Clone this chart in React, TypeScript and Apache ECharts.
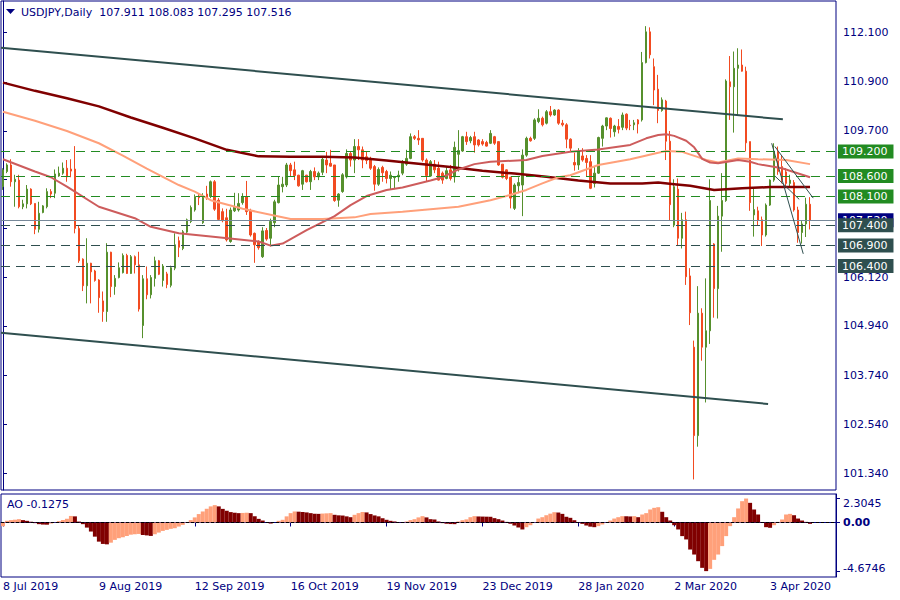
import React, { useEffect, useRef } from "react";
import * as echarts from "echarts";

// ---------- data ----------
const symbol = "USDJPY,Daily";
const tickLabels = ["8 Jul 2019", "9 Aug 2019", "12 Sep 2019", "16 Oct 2019", "19 Nov 2019", "23 Dec 2019", "28 Jan 2020", "2 Mar 2020", "3 Apr 2020"];
const LABEL_STEP = 24;
const SLOTS = 209; // 203 bars + empty shift on the right

// [open, high, low, close]
const ohlc: number[][] = [
  [108.34, 108.79, 108.26, 108.75], [108.71, 108.91, 108.67, 108.87], [108.87, 109.01, 108.34, 108.46], [108.46, 108.63, 107.85, 108.52],
  [108.50, 108.63, 107.81, 107.85], [107.85, 108.02, 107.79, 107.92], [107.92, 108.38, 107.81, 108.28], [108.28, 108.30, 107.89, 107.92],
  [107.93, 107.93, 107.18, 107.30], [107.30, 107.97, 107.22, 107.69], [107.71, 107.89, 107.69, 107.87], [107.85, 108.30, 107.81, 108.22],
  [108.22, 108.28, 108.06, 108.16], [108.18, 108.76, 108.06, 108.65], [108.60, 108.83, 108.58, 108.67], [108.67, 108.93, 108.63, 108.79],
  [108.79, 108.99, 108.46, 108.58], [108.77, 109.01, 108.57, 108.72], [108.77, 109.33, 107.20, 107.32], [107.32, 107.40, 106.48, 106.53],
  [106.57, 106.59, 105.79, 105.92], [105.92, 107.08, 105.49, 106.47], [106.47, 106.48, 105.49, 106.26], [106.28, 106.31, 106.02, 106.05],
  [106.06, 106.08, 105.26, 105.63], [105.55, 105.78, 105.04, 105.29], [105.29, 106.96, 105.04, 106.74], [106.74, 106.75, 105.64, 105.90],
  [105.90, 106.18, 105.70, 106.10], [106.12, 106.49, 106.10, 106.36], [106.24, 106.71, 106.22, 106.66], [106.66, 106.70, 106.21, 106.22],
  [106.22, 106.67, 106.21, 106.63], [106.63, 106.66, 106.22, 106.43], [106.43, 106.75, 105.29, 105.35], [104.95, 106.18, 104.64, 106.09],
  [106.09, 106.39, 105.59, 105.70], [105.70, 106.18, 105.61, 106.12], [106.10, 106.63, 105.90, 106.53], [106.53, 106.55, 106.18, 106.20],
  [106.05, 106.45, 105.90, 106.40], [106.21, 106.26, 105.86, 105.95], [105.93, 106.41, 105.88, 106.36], [106.35, 107.20, 106.30, 106.92],
  [107.02, 107.12, 106.62, 106.86], [106.83, 107.28, 106.79, 107.24], [107.23, 107.56, 107.20, 107.53], [107.49, 107.88, 107.45, 107.83],
  [107.77, 108.15, 107.73, 108.10], [108.11, 108.18, 107.89, 108.07], [107.46, 108.18, 107.43, 108.10], [108.16, 108.36, 108.02, 108.06],
  [108.10, 108.49, 108.06, 108.46], [108.46, 108.50, 107.75, 107.79], [108.01, 108.06, 107.52, 107.54], [107.73, 107.81, 107.47, 107.51],
  [107.58, 107.80, 107.00, 107.04], [107.00, 107.83, 106.97, 107.77], [107.75, 108.19, 107.72, 107.84], [107.77, 108.18, 107.73, 107.93],
  [107.95, 108.18, 107.90, 108.10], [108.10, 108.48, 107.65, 107.73], [107.75, 107.80, 107.12, 107.16], [107.20, 107.22, 106.48, 106.92],
  [107.00, 107.03, 106.80, 106.85], [106.63, 107.35, 106.60, 107.26], [107.27, 107.33, 107.02, 107.06], [107.08, 107.56, 106.88, 107.49],
  [107.46, 108.02, 107.35, 107.97], [107.95, 108.59, 107.93, 108.38], [108.34, 108.58, 108.20, 108.40], [108.38, 108.92, 108.33, 108.87],
  [108.87, 108.92, 108.58, 108.73], [108.75, 108.95, 108.50, 108.61], [108.62, 108.63, 108.34, 108.36], [108.40, 108.75, 108.26, 108.73],
  [108.62, 108.63, 108.44, 108.46], [108.46, 108.75, 108.26, 108.71], [108.71, 108.81, 108.50, 108.58], [108.58, 108.71, 108.50, 108.67],
  [108.69, 109.07, 108.62, 109.01], [108.99, 109.19, 108.67, 108.87], [108.91, 109.24, 108.83, 108.84], [108.87, 108.87, 107.97, 108.00],
  [108.01, 108.18, 107.85, 108.16], [108.22, 108.67, 108.19, 108.63], [108.58, 109.25, 108.54, 109.15], [109.15, 109.19, 108.83, 108.99],
  [108.99, 109.50, 108.67, 109.32], [109.32, 109.50, 108.99, 109.24], [109.24, 109.32, 108.79, 108.99], [109.07, 109.20, 108.89, 108.98],
  [109.03, 109.07, 108.75, 108.79], [108.83, 108.87, 108.24, 108.40], [108.40, 108.81, 108.36, 108.76], [108.81, 108.85, 108.46, 108.68],
  [108.71, 108.75, 108.42, 108.54], [108.54, 108.71, 108.28, 108.62], [108.56, 108.60, 108.28, 108.58], [108.58, 108.73, 108.46, 108.62],
  [108.67, 108.99, 108.62, 108.91], [108.89, 109.24, 108.85, 109.03], [109.03, 109.64, 109.01, 109.56], [109.56, 109.60, 109.48, 109.52],
  [109.52, 109.72, 109.36, 109.48], [109.52, 109.52, 108.95, 108.99], [108.99, 109.03, 108.46, 108.61], [108.60, 108.99, 108.58, 108.95],
  [108.89, 108.99, 108.67, 108.75], [108.79, 108.95, 108.49, 108.50], [108.67, 108.71, 108.41, 108.50], [108.54, 108.83, 108.52, 108.73],
  [108.75, 108.87, 108.49, 108.54], [108.58, 109.44, 108.44, 109.30], [109.13, 109.72, 108.71, 109.22], [109.21, 109.58, 109.19, 109.56],
  [109.56, 109.68, 109.36, 109.44], [109.46, 109.58, 109.40, 109.54], [109.56, 109.68, 109.17, 109.36], [109.48, 109.50, 109.32, 109.36],
  [109.44, 109.50, 109.34, 109.38], [109.42, 109.46, 109.32, 109.33], [109.40, 109.72, 109.38, 109.64], [109.56, 109.58, 109.36, 109.40],
  [109.44, 109.44, 108.85, 108.87], [108.89, 108.89, 108.54, 108.57], [108.75, 108.76, 108.50, 108.54], [108.57, 108.58, 107.81, 108.06],
  [107.81, 108.42, 107.77, 108.38], [108.36, 108.57, 108.18, 108.44], [108.38, 109.25, 107.62, 109.11], [109.11, 109.56, 109.07, 109.52],
  [109.52, 109.56, 109.44, 109.46], [109.52, 110.01, 109.48, 109.97], [109.93, 110.23, 109.89, 110.01], [110.01, 110.05, 109.81, 109.85],
  [109.89, 110.21, 109.86, 110.17], [110.17, 110.31, 110.05, 110.09], [110.09, 110.23, 110.07, 110.21], [110.21, 110.23, 109.85, 109.89],
  [109.89, 109.97, 109.81, 109.85], [109.85, 109.89, 109.28, 109.50], [109.50, 109.52, 109.19, 109.28], [108.93, 109.17, 108.73, 108.87],
  [108.87, 109.28, 108.75, 109.20], [109.09, 109.28, 108.95, 108.99], [109.03, 109.11, 108.58, 108.93], [108.95, 109.11, 108.28, 108.30],
  [108.42, 108.83, 108.32, 108.67], [108.67, 109.56, 108.65, 109.54], [109.52, 109.85, 109.32, 109.82], [109.82, 110.03, 109.72, 110.02],
  [110.01, 110.03, 109.54, 109.76], [109.68, 109.85, 109.56, 109.82], [109.81, 109.99, 109.64, 109.74], [109.79, 110.15, 109.72, 110.09],
  [110.11, 110.13, 109.72, 109.77], [109.84, 109.97, 109.72, 109.83], [109.85, 109.97, 109.72, 109.90], [109.97, 109.99, 109.64, 109.87],
  [109.97, 111.63, 109.93, 111.37], [111.37, 112.26, 111.35, 112.12], [112.12, 112.23, 111.47, 111.56], [111.27, 111.47, 110.33, 110.70],
  [110.72, 111.07, 109.89, 110.20], [110.20, 110.52, 110.17, 110.46], [110.43, 110.46, 108.99, 109.45], [109.45, 109.70, 107.52, 107.90],
  [107.40, 108.52, 107.35, 108.34], [108.28, 108.54, 106.89, 107.08], [107.08, 107.70, 106.83, 107.53], [107.53, 107.73, 105.94, 106.14],
  [106.16, 106.35, 104.96, 105.26], [104.42, 104.58, 101.19, 102.26], [102.26, 105.91, 101.99, 105.25], [105.25, 105.37, 104.09, 104.42],
  [104.42, 106.10, 103.07, 104.82], [104.82, 108.52, 104.50, 108.00], [106.94, 106.96, 105.14, 105.85], [105.85, 107.87, 105.12, 107.62],
  [107.62, 108.67, 106.75, 108.00], [108.00, 110.96, 107.97, 110.92], [110.90, 111.53, 109.97, 110.78], [110.78, 111.64, 109.66, 111.23],
  [111.23, 111.72, 110.09, 111.31], [111.31, 111.69, 111.15, 111.16], [111.16, 111.27, 109.20, 109.41], [109.44, 109.44, 107.75, 107.95],
  [107.65, 108.30, 107.12, 107.78], [107.75, 107.85, 107.40, 107.52], [107.53, 107.61, 106.89, 107.16], [107.16, 107.93, 107.12, 107.89],
  [107.89, 108.52, 107.87, 108.50], [108.50, 109.40, 108.46, 109.19], [109.19, 109.32, 108.63, 108.71], [108.83, 109.11, 108.42, 108.50],
  [108.70, 108.79, 108.33, 108.42], [108.42, 108.63, 108.34, 108.50], [108.44, 108.50, 107.73, 107.77], [107.77, 107.85, 106.97, 107.22],
  [107.22, 107.50, 106.95, 107.43], [107.43, 108.07, 107.11, 107.91], [107.911, 108.083, 107.295, 107.516],
];

// Awesome Oscillator, one value per bar
const ao: number[] = [
  -0.36, 0.16, 0.23, 0.27, 0.32, 0.23, 0.16, 0.06, -0.06, -0.16,
  -0.20, -0.21, -0.10, -0.02, 0.13, 0.23, 0.36, 0.63, 0.59, 0.09,
  -0.16, -0.49, -0.87, -1.36, -1.84, -2.06, -2.10, -1.94, -1.67, -1.51,
  -1.42, -1.29, -1.17, -1.13, -1.10, -1.20, -1.24, -1.29, -1.13, -0.97,
  -0.81, -0.71, -0.61, -0.55, -0.39, -0.23, 0.05, 0.23, 0.49, 0.81,
  1.06, 1.32, 1.55, 1.67, 1.55, 1.31, 1.13, 1.00, 0.94, 0.90,
  0.92, 0.94, 0.90, 0.59, 0.35, 0.19, 0.00, -0.10, 0.00, 0.16,
  0.26, 0.59, 0.90, 1.06, 1.04, 1.01, 0.97, 0.90, 0.84, 0.83,
  0.86, 0.88, 0.90, 0.74, 0.69, 0.67, 0.59, 0.51, 0.74, 0.90,
  1.01, 0.97, 0.81, 0.68, 0.59, 0.41, 0.26, 0.16, 0.10, 0.03,
  -0.02, 0.10, 0.23, 0.32, 0.49, 0.61, 0.49, 0.32, 0.29, 0.10,
  -0.06, -0.12, -0.15, -0.16, 0.10, 0.22, 0.30, 0.51, 0.61, 0.58,
  0.57, 0.56, 0.55, 0.42, 0.32, 0.19, 0.06, -0.13, -0.29, -0.48,
  -0.67, -0.45, -0.26, -0.03, 0.38, 0.51, 0.70, 0.85, 0.99, 0.96,
  0.83, 0.55, 0.45, 0.22, 0.03, -0.13, -0.29, -0.40, -0.45, -0.35,
  -0.19, 0.03, 0.19, 0.38, 0.51, 0.61, 0.60, 0.58, 0.61, 0.51,
  0.77, 0.90, 1.25, 1.41, 1.47, 1.03, 0.51, 0.19, -0.26, -0.67,
  -1.31, -1.63, -2.60, -3.08, -3.72, -4.36, -4.6746, -4.46, -3.59, -3.08,
  -2.27, -1.31, -0.35, 0.51, 1.35, 2.05, 2.3045, 1.89, 1.25, 0.77,
  0.03, -0.45, -0.51, -0.26, 0.06, 0.29, 0.77, 0.83, 0.70, 0.38,
  0.19, 0.06, -0.1275,
];

// moving averages: [bar index, value]
const maSlow: number[][] = [
  [0, 110.88], [8, 110.68], [16, 110.5], [24, 110.3], [32, 110.03], [40, 109.78], [48, 109.52], [56, 109.24], [64, 109.08],
  [72, 109.07], [80, 109.07], [88, 109.05], [96, 108.98], [104, 108.9], [112, 108.82], [120, 108.73], [128, 108.66],
  [136, 108.58], [144, 108.49], [152, 108.42], [160, 108.42], [164, 108.44], [168, 108.4], [172, 108.36], [178, 108.26],
  [185, 108.3], [192, 108.33], [202, 108.33],
];
const maMid: number[][] = [
  [0, 110.17], [8, 109.95], [16, 109.7], [24, 109.4], [30, 109.1], [36, 108.78], [44, 108.38], [48, 108.22], [52, 108.01],
  [60, 107.8], [72, 107.55], [80, 107.55], [88, 107.59], [92, 107.67], [100, 107.73], [107, 107.79], [114, 107.85],
  [122, 108.01], [126, 108.11], [131, 108.26], [135, 108.42], [139, 108.57], [142, 108.62], [149, 108.87], [157, 109.01],
  [164, 109.17], [166, 109.21], [170, 109.19], [174, 109.06], [176, 108.99], [179, 108.93], [184, 109.03], [189, 109.01],
  [196, 108.99], [202, 108.89],
];
const maFast: number[][] = [
  [0, 109.01], [8, 108.71], [12, 108.57], [16, 108.34], [24, 107.85], [33, 107.57], [37, 107.36], [44, 107.2], [52, 107.12],
  [58, 107.06], [64, 107.0], [67, 106.9], [70, 106.95], [72, 107.06], [76, 107.28], [83, 107.62], [87, 107.89], [91, 108.11],
  [96, 108.26], [100, 108.32], [107, 108.49], [110, 108.57], [114, 108.76], [118, 108.89], [122, 108.95], [131, 108.99],
  [135, 109.09], [142, 109.19], [149, 109.25], [157, 109.36], [161, 109.52], [164, 109.6], [166, 109.62], [168, 109.58],
  [171, 109.46], [173, 109.3], [175, 109.02], [177, 108.93], [179, 108.91], [184, 108.99], [187, 108.95], [189, 108.89],
  [195, 108.79], [202, 108.57],
];

// trend lines: [bar index, price]
const upperChannel = [[-0.5, 111.732], [195.2, 109.985]];
const lowerChannel = [[-0.5, 104.772], [191.5, 103.033]];
const wedgeLines = [
  [[192.4, 109.4], [200.3, 106.7]],
  [[193.2, 109.32], [202.8, 108.06]],
  [[193.2, 108.6], [199.3, 108.03]],
];

const resistanceLevels = [109.2, 108.6, 108.1];
const supportLevels = [107.4, 106.9, 106.4];
// scale marks; 108.520 and 107.320 sit under the level boxes, so only their ticks are shown
const priceTicks = [112.1, 110.9, 109.7, 108.52, 107.32, 106.12, 104.94, 103.74, 102.54, 101.34];
const priceLabels = [112.1, 110.9, 109.7, 106.12, 104.94, 103.74, 102.54, 101.34];
const aoTicks = [2.3045, 0, -4.6746];

// ---------- styles ----------
const NAVY = "#000080";
const FONT = "DejaVu Sans";
const BULL = "#56902d";
const BEAR = "#f24b21";
const GREEN_LVL = "#228B22";
const SLATE = "#2F4F4F";

export default function App() {
  const ref = useRef<HTMLDivElement>(null);

  useEffect(() => {
    if (!ref.current) return;
    const chart = echarts.init(ref.current, undefined, { renderer: "svg" });
    const cats = Array.from({ length: SLOTS }, (_, i) => String(i));
    const last = ohlc[ohlc.length - 1];
    const header = `${symbol}  ${last.map((v) => v.toFixed(3)).join(" ")}`;

    const aoData = ao.map((v, i) => {
      const up = i === 0 ? true : v >= ao[i - 1];
      return { value: v, itemStyle: { color: up ? "#FFA07A" : "#800000" } };
    });

    const levelLabel = (bg: string) => ({
      show: true,
      position: "end",
      distance: 2,
      formatter: (p: any) => Number(p.value).toFixed(3),
      color: "#ffffff",
      backgroundColor: bg,
      fontFamily: FONT,
      fontSize: 11,
      lineHeight: 13,
      padding: [1, 6, 0, 4],
    });

    const markData: any[] = [
      {
        yAxis: last[3],
        lineStyle: { color: "#778899", type: "solid", width: 1 },
        label: levelLabel(NAVY),
      },
      ...resistanceLevels.map((v) => ({
        yAxis: v,
        lineStyle: { color: GREEN_LVL, type: [9, 6], width: 1 },
        label: levelLabel(GREEN_LVL),
      })),
      ...supportLevels.map((v) => ({
        yAxis: v,
        lineStyle: { color: SLATE, type: [9, 6], width: 1 },
        label: levelLabel(SLATE),
      })),
    ];

    const lineSeries = (data: number[][], color: string, width: number, z: number) => ({
      type: "line",
      xAxisIndex: 1,
      yAxisIndex: 0,
      data,
      symbol: "none",
      silent: true,
      z,
      lineStyle: { color, width },
      animation: false,
    });

    const dateInterval = (i: number) => i % LABEL_STEP === 0 && i / LABEL_STEP < tickLabels.length;

    const option: any = {
      animation: false,
      backgroundColor: "#ffffff",
      textStyle: { fontFamily: FONT },
      grid: [
        { left: 1, top: 1, width: 835, height: 489, show: true, borderColor: NAVY, borderWidth: 1, backgroundColor: "transparent" },
        { left: 1, top: 494, width: 835, height: 83, show: true, borderColor: NAVY, borderWidth: 1, backgroundColor: "transparent" },
      ],
      xAxis: [
        { type: "category", gridIndex: 0, data: cats, boundaryGap: true, show: false },
        { type: "value", gridIndex: 0, min: -0.5, max: SLOTS - 0.5, show: false },
        {
          type: "category",
          gridIndex: 1,
          data: cats,
          boundaryGap: true,
          axisLine: { show: true, lineStyle: { color: NAVY, width: 1 } },
          axisTick: { show: true, alignWithLabel: true, length: 4, interval: dateInterval, lineStyle: { color: NAVY } },
          axisLabel: {
            show: true,
            interval: dateInterval,
            formatter: (_v: string, i: number) => tickLabels[i / LABEL_STEP] ?? "",
            align: "left",
            margin: 4,
            color: NAVY,
            fontFamily: FONT,
            fontSize: 11,
            hideOverlap: false,
          },
          splitLine: { show: false },
        },
      ],
      yAxis: [
        {
          type: "value",
          gridIndex: 0,
          position: "right",
          min: 100.932,
          max: 112.874,
          splitLine: { show: false },
          axisLine: { show: true, lineStyle: { color: NAVY } },
          axisTick: { show: true, length: 4, customValues: priceTicks, lineStyle: { color: NAVY } },
          axisLabel: {
            show: true,
            customValues: priceLabels,
            formatter: (v: number) => v.toFixed(3),
            color: NAVY,
            fontFamily: FONT,
            fontSize: 11,
            margin: 7,
          },
        },
        {
          type: "value",
          gridIndex: 1,
          position: "right",
          min: -5.24,
          max: 2.74,
          splitLine: { show: false },
          axisLine: { show: true, lineStyle: { color: NAVY } },
          axisTick: { show: true, length: 4, customValues: aoTicks, lineStyle: { color: NAVY } },
          axisLabel: {
            show: true,
            customValues: aoTicks,
            margin: 7,
            formatter: (v: number) =>
              v > 0 ? `{hi|${v.toFixed(4)}}` : v < 0 ? `{lo|${v.toFixed(4)}}` : `{z|${v.toFixed(2)}}`,
            rich: {
              hi: { color: NAVY, fontFamily: FONT, fontSize: 11, padding: [10, 0, 0, 0] },
              lo: { color: NAVY, fontFamily: FONT, fontSize: 11, padding: [0, 0, 5, 0] },
              z: { color: NAVY, fontFamily: FONT, fontSize: 11, fontWeight: "bold" },
            },
          },
        },
      ],
      series: [
        {
          type: "candlestick",
          xAxisIndex: 0,
          yAxisIndex: 0,
          data: ohlc.map((d) => [d[0], d[3], d[2], d[1]]),
          barWidth: 2,
          z: 3,
          itemStyle: { color: BULL, color0: BEAR, borderColor: BULL, borderColor0: BEAR, borderWidth: 1 },
          markLine: { symbol: ["none", "none"], silent: true, animation: false, data: markData },
        },
        lineSeries(maSlow, "#800000", 2.5, 4),
        lineSeries(maMid, "#FFA07A", 2, 4),
        lineSeries(maFast, "#CD5C5C", 2, 4),
        lineSeries(upperChannel, SLATE, 2, 5),
        lineSeries(lowerChannel, SLATE, 2, 5),
        ...wedgeLines.map((w) => lineSeries(w, SLATE, 1, 5)),
        {
          type: "bar",
          xAxisIndex: 2,
          yAxisIndex: 1,
          data: aoData,
          barCategoryGap: "0%",
          silent: true,
          markLine: {
            symbol: ["none", "none"],
            silent: true,
            animation: false,
            label: { show: false },
            lineStyle: { color: "#000000", type: [3, 2], width: 1 },
            data: [{ yAxis: 0 }],
          },
        },
      ],
      graphic: [
        { type: "polygon", shape: { points: [[6, 9], [15, 9], [10.5, 14]] }, style: { fill: NAVY }, z: 10 },
        {
          type: "text",
          x: 21,
          y: 12.5,
          z: 10,
          style: { text: header, fill: NAVY, fontFamily: FONT, fontSize: 11, verticalAlign: "middle" },
        },
        {
          type: "text",
          x: 7,
          y: 504,
          z: 10,
          style: { text: `AO ${ao[ao.length - 1]}`, fill: NAVY, fontFamily: FONT, fontSize: 11, verticalAlign: "middle" },
        },
      ],
    };

    chart.setOption(option);
    return () => chart.dispose();
  }, []);

  return <div ref={ref} style={{ position: "absolute", left: 0, top: 0, width: 900, height: 600, background: "#fff" }} />;
}
